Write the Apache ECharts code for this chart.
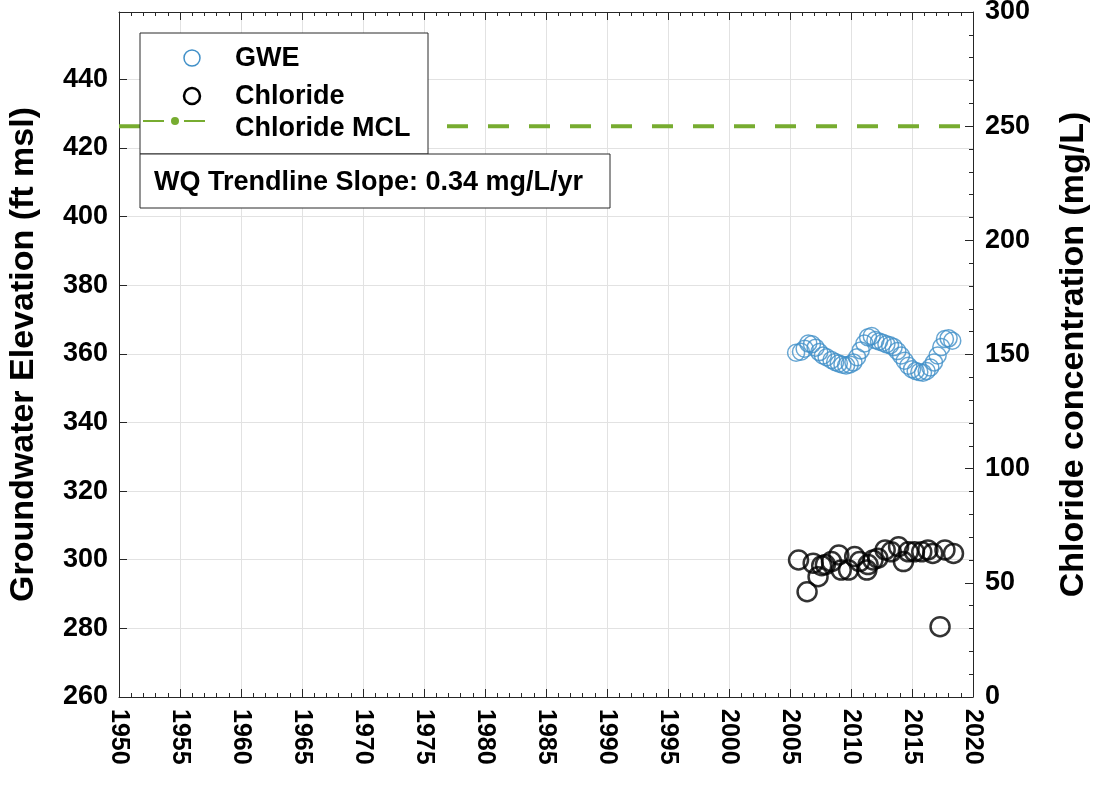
<!DOCTYPE html>
<html>
<head>
<meta charset="utf-8">
<script src="https://cdn.jsdelivr.net/npm/echarts@6/dist/echarts.min.js"></script>
<style>
html,body{margin:0;padding:0;background:#fff;}
#chart{width:1097px;height:786px;background:#fff;}
</style>
</head>
<body>
<div id="chart"></div>
<script>
// ---- data ----
const gweData = [
  [2005.5,360.3],[2005.9,360.6],[2006.2,361.5],[2006.5,363.0],[2006.8,362.8],
  [2007.1,361.8],[2007.4,360.5],[2007.7,359.5],[2008.0,359.0],[2008.4,358.2],
  [2008.7,357.6],[2009.0,357.2],[2009.3,356.8],[2009.6,356.6],[2009.9,356.9],
  [2010.2,357.5],[2010.5,359.0],[2010.8,361.0],[2011.1,363.0],[2011.4,364.8],
  [2011.7,365.2],[2012.0,364.0],[2012.3,363.6],[2012.6,363.2],[2012.9,362.8],
  [2013.2,362.5],[2013.5,362.0],[2013.8,360.8],[2014.1,359.5],[2014.4,358.0],
  [2014.7,356.5],[2015.0,355.5],[2015.3,355.0],[2015.6,354.7],[2015.9,354.5],
  [2016.2,355.0],[2016.5,356.0],[2016.8,357.5],[2017.1,359.5],[2017.4,362.0],
  [2017.7,364.3],[2018.0,364.5],[2018.3,363.8]
];
const chlorideData = [
  [2005.7,60.0],[2006.4,46.1],[2006.9,58.6],[2007.3,52.7],[2007.6,57.5],
  [2007.9,58.0],[2008.4,59.3],[2009.0,62.2],[2009.2,55.6],[2009.8,55.6],
  [2010.3,61.5],[2010.7,59.3],[2011.3,55.6],[2011.4,58.0],[2011.8,60.0],
  [2012.2,60.8],[2012.8,64.4],[2013.3,63.6],[2013.9,65.8],[2014.3,59.3],
  [2014.7,63.6],[2015.2,63.6],[2015.8,63.6],[2016.3,64.4],[2016.7,62.9],
  [2017.3,30.8],[2017.7,64.4],[2018.4,62.9]
];
const chlorideMCL = 250;
const xRange = [1950, 2020];
const leftRange = [260, 459.6];
const rightRange = [0, 300];
const legendNames = ['GWE', 'Chloride', 'Chloride MCL'];
const slopeText = 'WQ Trendline Slope: 0.34 mg/L/yr';

const FONT = "'Liberation Sans', Arial, Helvetica, sans-serif";
const gweColor = '#4190C8';
const gridColor = '#E2E2E2';
const axisColor = '#262626';
const mclColor = '#77AC30';

const chart = echarts.init(document.getElementById('chart'));
const option = {
  animation: false,
  grid: { left: 119, right: 124, top: 12, bottom: 89, containLabel: false, outerBoundsMode: 'none' },
  legend: {
    data: [legendNames[2]],
    left: 142, top: 116,
    padding: 0,
    itemWidth: 64, itemHeight: 10,
    itemGap: 0,
    formatter: () => '',
    selectedMode: false,
    z: 200,
    textStyle: { fontSize: 1 }
  },
  xAxis: [{
    type: 'value', min: xRange[0], max: xRange[1], interval: 5,
    axisLine: { show: true, onZero: false, lineStyle: { color: axisColor, width: 1 } },
    axisTick: { show: true, inside: true, length: 8, lineStyle: { color: axisColor } },
    minorTick: { show: true, splitNumber: 5, length: 4, lineStyle: { color: axisColor } },
    splitLine: { show: true, lineStyle: { color: gridColor, width: 1 } },
    axisLabel: { rotate: -90, margin: 12, color: '#000', fontFamily: FONT, fontWeight: 'bold', fontSize: 25,
      formatter: v => String(v) }
  }, {
    type: 'value', position: 'top', min: xRange[0], max: xRange[1], interval: 5,
    axisLine: { show: true, onZero: false, lineStyle: { color: axisColor, width: 1 } },
    axisTick: { show: true, inside: true, length: 8, lineStyle: { color: axisColor } },
    minorTick: { show: true, splitNumber: 5, length: 4, lineStyle: { color: axisColor } },
    splitLine: { show: false },
    axisLabel: { show: false }
  }],
  yAxis: [{
    type: 'value', min: leftRange[0], max: leftRange[1], interval: 20,
    name: 'Groundwater Elevation (ft msl)', nameLocation: 'middle', nameGap: 78,
    nameTextStyle: { color: '#000', fontFamily: FONT, fontWeight: 'bold', fontSize: 34 },
    axisLine: { show: true, onZero: false, lineStyle: { color: axisColor, width: 1 } },
    axisTick: { show: true, inside: true, length: 8, lineStyle: { color: axisColor } },
    splitLine: { show: true, lineStyle: { color: gridColor, width: 1 } },
    axisLabel: { showMaxLabel: false, margin: 11, color: '#000', fontFamily: FONT, fontWeight: 'bold', fontSize: 27 }
  }, {
    type: 'value', position: 'right', min: rightRange[0], max: rightRange[1], interval: 50,
    name: 'Chloride concentration (mg/L)', nameLocation: 'middle', nameGap: 84, nameRotate: 90,
    nameTextStyle: { color: '#000', fontFamily: FONT, fontWeight: 'bold', fontSize: 34 },
    axisLine: { show: true, onZero: false, lineStyle: { color: axisColor, width: 1 } },
    axisTick: { show: true, inside: true, length: 8, lineStyle: { color: axisColor } },
    minorTick: { show: true, splitNumber: 5, length: 4, lineStyle: { color: axisColor } },
    splitLine: { show: false },
    axisLabel: { margin: 12, color: '#000', fontFamily: FONT, fontWeight: 'bold', fontSize: 27 }
  }],
  series: [{
    name: legendNames[0], type: 'scatter', xAxisIndex: 0, yAxisIndex: 0,
    data: gweData, symbol: 'circle', symbolSize: 17,
    itemStyle: { color: 'rgba(0,0,0,0)', borderColor: gweColor, borderWidth: 1.5 },
    z: 3
  }, {
    name: legendNames[1], type: 'scatter', xAxisIndex: 0, yAxisIndex: 1,
    data: chlorideData, symbol: 'circle', symbolSize: 19,
    itemStyle: { color: 'rgba(0,0,0,0)', borderColor: '#000', borderWidth: 2.5 },
    z: 3
  }, {
    name: legendNames[2], type: 'line', xAxisIndex: 0, yAxisIndex: 1,
    data: [[xRange[0], chlorideMCL], [xRange[1], chlorideMCL]],
    symbol: 'none', color: mclColor,
    itemStyle: { color: mclColor },
    lineStyle: { color: mclColor, width: 4, type: [21, 20] },
    z: 2
  }],
  graphic: [
    { type: 'rect', z: 100, shape: { x: 140, y: 33, width: 288, height: 121 },
      style: { fill: '#fff', stroke: '#2b2b2b', lineWidth: 1 } },
    { type: 'circle', z: 110, shape: { cx: 192, cy: 58, r: 8 },
      style: { fill: 'none', stroke: gweColor, lineWidth: 1.5 } },
    { type: 'text', z: 110, x: 235, y: 59,
      style: { text: legendNames[0], fill: '#000', font: 'bold 27px ' + FONT, textVerticalAlign: 'middle' } },
    { type: 'circle', z: 110, shape: { cx: 192, cy: 96, r: 8 },
      style: { fill: 'none', stroke: '#000', lineWidth: 2.5 } },
    { type: 'text', z: 110, x: 235, y: 97,
      style: { text: legendNames[1], fill: '#000', font: 'bold 27px ' + FONT, textVerticalAlign: 'middle' } },
    { type: 'text', z: 110, x: 235, y: 129,
      style: { text: legendNames[2], fill: '#000', font: 'bold 27px ' + FONT, textVerticalAlign: 'middle' } },
    { type: 'rect', z: 100, shape: { x: 140, y: 154, width: 470, height: 54 },
      style: { fill: '#fff', stroke: '#2b2b2b', lineWidth: 1 } },
    { type: 'text', z: 110, x: 154, y: 183,
      style: { text: slopeText, fill: '#000', font: 'bold 27px ' + FONT, textVerticalAlign: 'middle' } }
  ]
};
chart.setOption(option);
</script>
</body>
</html>
